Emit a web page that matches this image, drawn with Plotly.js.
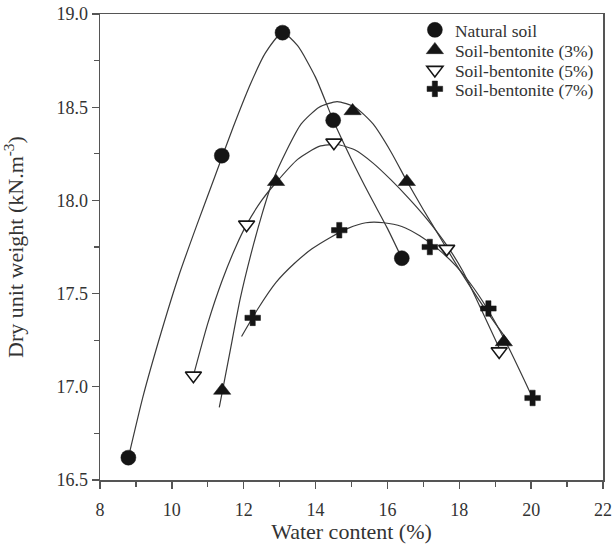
<!DOCTYPE html>
<html>
<head>
<meta charset="utf-8">
<script src="https://cdn.plot.ly/plotly-3.0.1.min.js"></script>
<style>
  html, body { margin: 0; padding: 0; background: #fff; }
  #chart { width: 613px; height: 544px; }
</style>
</head>
<body>
<div id="chart"></div>
<script>
// Compaction test results: water content (%) vs dry unit weight (kN/m3)
const seriesNames = ['Natural soil', 'Soil-bentonite (3%)', 'Soil-bentonite (5%)', 'Soil-bentonite (7%)'];

const naturalX = [8.79, 11.39, 13.08, 14.49, 16.40];
const naturalY = [16.62, 18.24, 18.90, 18.43, 17.69];

const bent3X = [11.40, 12.90, 15.03, 16.54, 19.24];
const bent3Y = [16.98, 18.10, 18.48, 18.10, 17.24];

const bent5X = [10.60, 12.08, 14.51, 17.65, 19.11];
const bent5Y = [17.06, 17.87, 18.31, 17.74, 17.19];

const bent7X = [12.25, 14.66, 17.18, 18.81, 20.04];
const bent7Y = [17.37, 17.84, 17.75, 17.42, 16.94];

// Fitted compaction curves
const naturalFitX = [8.79, 9.2, 9.7, 10.2, 10.7, 11.2, 11.7, 12.2, 12.6, 13.08, 13.5, 14.0, 14.49, 15.0, 15.5, 16.0, 16.40];
const naturalFitY = [16.62, 16.95, 17.29, 17.60, 17.87, 18.13, 18.39, 18.63, 18.79, 18.90, 18.83, 18.66, 18.43, 18.22, 18.03, 17.85, 17.69];

const bent3FitX = [11.32, 11.6, 11.9, 12.2, 12.5, 12.8, 13.2, 13.6, 14.1, 14.6, 15.1, 15.6, 16.1, 16.55, 17.0, 17.5, 18.0, 18.5, 19.0, 19.38];
const bent3FitY = [16.89, 17.17, 17.47, 17.71, 17.92, 18.10, 18.27, 18.41, 18.50, 18.53, 18.50, 18.41, 18.26, 18.10, 17.95, 17.79, 17.63, 17.48, 17.34, 17.24];

const bent5FitX = [10.60, 11.0, 11.4, 11.8, 12.08, 12.5, 12.92, 13.5, 14.1, 14.6, 15.1, 15.6, 16.1, 16.6, 17.1, 17.65, 18.1, 18.6, 19.13];
const bent5FitY = [17.06, 17.34, 17.57, 17.76, 17.87, 18.00, 18.10, 18.22, 18.29, 18.30, 18.27, 18.20, 18.11, 18.01, 17.90, 17.76, 17.62, 17.42, 17.20];

const bent7FitX = [11.94, 12.4, 12.9, 13.4, 13.9, 14.4, 14.9, 15.4, 15.9, 16.4, 16.9, 17.4, 17.9, 18.4, 18.9, 19.4, 19.97];
const bent7FitY = [17.27, 17.42, 17.56, 17.66, 17.74, 17.80, 17.85, 17.88, 17.88, 17.86, 17.81, 17.74, 17.65, 17.53, 17.38, 17.20, 16.97];

const xTickVals = [8, 10, 12, 14, 16, 18, 20, 22];
const yTickVals = [16.5, 17.0, 17.5, 18.0, 18.5, 19.0];

const lineStyle = { color: '#3a3a3a', width: 1.2, shape: 'spline', smoothing: 0.6 };

function fitTrace(x, y) {
  return { x: x, y: y, type: 'scatter', mode: 'lines', line: lineStyle,
           showlegend: false, hoverinfo: 'skip' };
}

function markerTrace(name, x, y, symbol, size, fill, legendId) {
  return {
    x: x, y: y, name: name, type: 'scatter', mode: 'markers', legend: legendId,
    marker: { symbol: symbol, size: size, color: fill,
              line: { color: '#151515', width: fill === '#ffffff' ? 1.6 : 0.5 } }
  };
}

const traces = [
  fitTrace(naturalFitX, naturalFitY),
  fitTrace(bent3FitX, bent3FitY),
  fitTrace(bent5FitX, bent5FitY),
  fitTrace(bent7FitX, bent7FitY),
  markerTrace(seriesNames[0], naturalX, naturalY, 'circle', 15, '#151515', 'legend'),
  markerTrace(seriesNames[1], bent3X, bent3Y, 'triangle-up', 15, '#151515', 'legend2'),
  markerTrace(seriesNames[2], bent5X, bent5Y, 'triangle-down', 14, '#ffffff', 'legend3'),
  markerTrace(seriesNames[3], bent7X, bent7Y, 'cross', 13, '#151515', 'legend4')
];

const fontFamily = '"Liberation Serif", "Times New Roman", serif';

const axisCommon = {
  showline: true, linecolor: '#555', linewidth: 1.5, mirror: true,
  ticks: 'outside', ticklen: 7, tickwidth: 1.3, tickcolor: '#555',
  showgrid: false, zeroline: false, automargin: false,
  tickfont: { family: fontFamily, size: 18, color: '#333' }
};

// One legend box per series so the rows sit at a tight spacing
function legendBox(yPaper) {
  return {
    x: 0.626, xanchor: 'left', y: yPaper, yanchor: 'middle',
    bgcolor: 'rgba(0,0,0,0)', borderwidth: 0,
    font: { family: fontFamily, size: 17.5, color: '#333' }
  };
}

const layout = {
  width: 613, height: 544,
  margin: { l: 100, r: 10, t: 14, b: 64 },
  paper_bgcolor: '#fff', plot_bgcolor: '#fff',
  font: { family: fontFamily, color: '#333' },
  xaxis: Object.assign({}, axisCommon, {
    range: [8, 22], tickvals: xTickVals, ticklabelstandoff: 6,
    minor: { ticks: 'outside', ticklen: 5, dtick: 1, tickcolor: '#555', tickwidth: 1.2 },
    title: { text: 'Water content (%)', font: { family: fontFamily, size: 22, color: '#333' }, standoff: 1 }
  }),
  yaxis: Object.assign({}, axisCommon, {
    range: [16.5, 19.0], tickvals: yTickVals, tickformat: '.1f',
    minor: { ticks: 'outside', ticklen: 5, dtick: 0.25, tickcolor: '#555', tickwidth: 1.2 },
    title: { text: 'Dry unit weight (kN.m<sup>-3</sup>)', font: { family: fontFamily, size: 22, color: '#333' }, standoff: 26 }
  }),
  legend: legendBox(0.9657),
  legend2: legendBox(0.9227),
  legend3: legendBox(0.8798),
  legend4: legendBox(0.8391),
  showlegend: true
};

Plotly.newPlot('chart', traces, layout, { displayModeBar: false, staticPlot: true });
</script>
</body>
</html>
